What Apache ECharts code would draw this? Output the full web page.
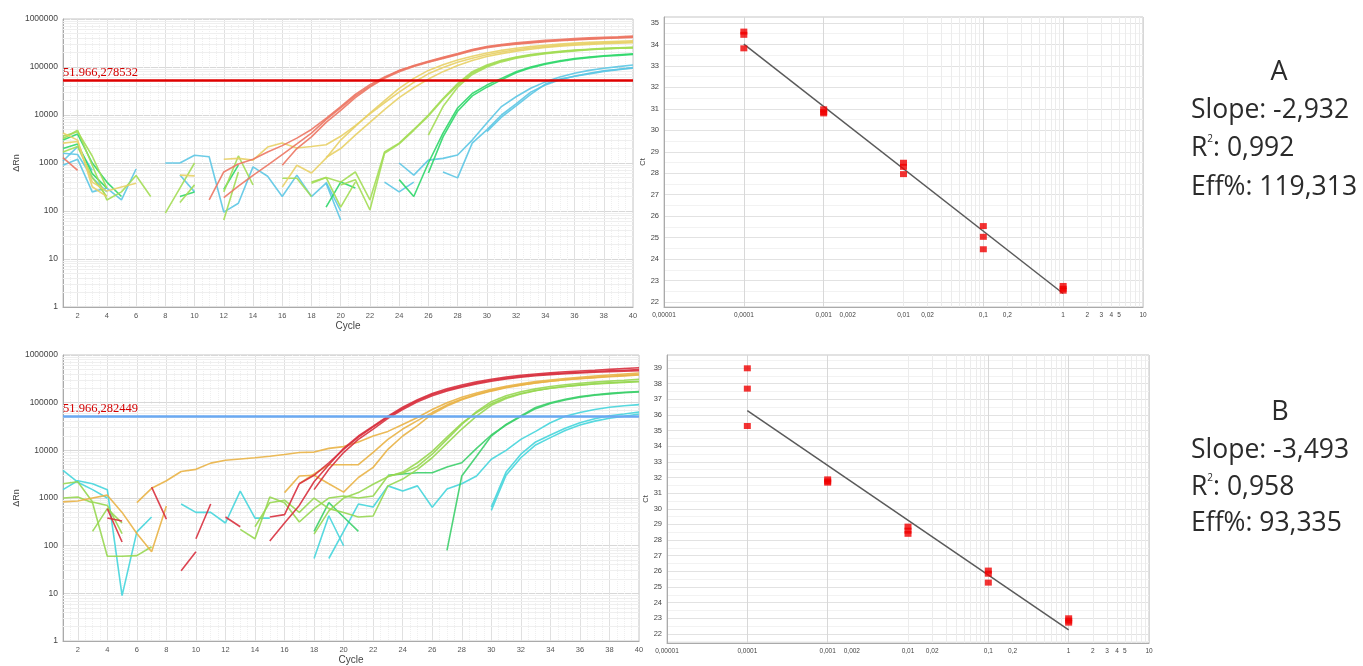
<!DOCTYPE html>
<html>
<head>
<meta charset="utf-8">
<script src="https://cdn.jsdelivr.net/npm/echarts@6/dist/echarts.min.js"></script>
<style>
html, body { margin: 0; padding: 0; background: #fff; }
#chart { width: 1363px; height: 666px; }
</style>
</head>
<body>
<div id="chart"></div>
<script>
'use strict';

/* data */

var _ = null;
var cycles = [];
for (var c = 1; c <= 40; c++) cycles.push(c);

// amplification plot A (dRn per cycle, null = not drawn)
var aR1 = [1300,700,_,_,_,_,_,_,_,_, 170,650,950,1200,1700,2300,3300,5000,8500,15000, 27000,43000,62000,85000,105000,128000,155000,185000,225000,260000, 285000,305000,325000,345000,360000,375000,390000,400000,412000,425000];
var aR2 = [_,_,_,_,_,_,_,_,_,_, _,190,330,550,900,1500,2500,4200,8000,14000, 25000,40000,60000,84000,108000,132000,160000,192000,232000,268000, 295000,318000,338000,358000,375000,390000,405000,415000,425000,440000];
var aR3 = [_,_,_,_,_,_,_,_,_,_, _,_,_,_,_,900,2000,3500,7000,12500, 23000,38000,58000,80000,102000,125000,150000,180000,218000,252000, 278000,298000,318000,336000,352000,366000,380000,392000,402000,412000];
var aY1 = [4200,3000,320,200,_,_,_,_,560,540, _,1200,1250,1150,2150,2600,2050,2200,2400,3600, 6000,10500,18000,30000,48000,72000,98000,125000,152000,180000, 205000,228000,248000,266000,282000,296000,308000,318000,327000,335000];
var aY2 = [2600,2800,400,260,315,380,_,_,_,_, _,_,_,_,_,315,900,620,1260,3000, 5800,11000,20000,36000,58000,85000,112000,140000,168000,196000, 222000,246000,266000,284000,300000,314000,326000,336000,345000,352000];
var aY3 = [_,_,_,_,_,_,_,_,_,_, _,_,_,_,_,_,_,_,1300,2000, 3800,7000,13000,23000,37000,56000,80000,108000,136000,165000, 190000,214000,235000,254000,270000,284000,296000,306000,315000,322000];
var aL1 = [3200,4800,900,170,250,550,200,_,_,_, _,65,650,_,_,_,_,400,500,400, 650,170,1700,2600,5000,10000,22000,45000,80000,110000, 138000,162000,182000,198000,212000,225000,235000,244000,252000,258000];
var aL2 = [3600,4500,1400,300,_,_,_,90,300,1000, _,_,_,_,_,480,480,200,_,350, 450,105,1600,2500,4800,9500,21000,42000,75000,105000, 133000,157000,177000,194000,208000,221000,231000,240000,247000,253000];
var aL3 = [1700,2200,500,200,_,_,_,_,150,350, _,250,1400,350,_,_,_,380,500,120, 400,_,_,_,_,3800,15000,38000,70000,100000, 128000,152000,172000,190000,204000,217000,228000,237000,245000,250000];
var aG1 = [3000,4000,1000,400,200,_,_,_,200,250, _,280,900,_,_,_,_,_,_,_, _,_,_,450,200,1000,4200,14000,28000,42000, 58000,80000,100000,118000,135000,150000,162000,172000,180000,188000];
var aG2 = [2000,2500,600,300,_,_,_,_,_,_, _,_,_,_,_,_,_,_,120,400, 300,_,_,_,_,620,3500,12000,25000,38000, 54000,76000,96000,114000,130000,145000,157000,167000,175000,182000];
var aC1 = [900,1200,250,300,170,750,_,1000,1000,1450, 1350,95,145,830,530,200,560,200,380,65, _,_,_,1000,560,1150,1250,1470,3000,6800, 15000,24000,36000,49000,62000,74000,85000,94000,102000,110000];
var aC2 = [1600,1500,500,250,_,_,_,_,560,250, _,_,_,_,_,_,_,_,400,100, _,_,400,250,400,_,650,490,2600,4900, 10000,17000,30000,42000,54000,64000,74000,83000,90000,97000];
var aC3 = [1100,2200,700,_,_,_,_,_,_,_, _,_,_,_,_,_,_,_,_,_, _,_,_,_,_,_,_,_,_,4500, 9000,15500,27000,44000,56000,64000,72000,81000,88000,95000];

// amplification plot B
var bR1 = [_,_,_,600,120,_,1700,360,_,_, _,400,250,_,125,300,700,2200,5000,11000, 20000,32000,52000,80000,115000,155000,195000,235000,275000,310000, 345000,375000,400000,425000,445000,462000,480000,500000,520000,540000];
var bR2 = [_,_,_,380,330,_,_,_,30,75, _,_,_,_,400,450,2000,3000,5500,10500, 19000,31000,50000,76000,110000,148000,185000,222000,260000,295000, 328000,356000,380000,402000,420000,436000,452000,466000,480000,495000];
var bR3 = [_,_,_,_,_,_,_,_,_,140, 750,_,_,_,_,_,_,1500,4000,9000, 17000,28000,47000,72000,104000,140000,176000,212000,248000,282000, 314000,342000,366000,388000,406000,422000,436000,448000,460000,470000];
var bY1 = [_,_,_,_,_,800,1600,2300,3600,4000, 5400,6200,6600,7000,7500,8200,9000,9200,11000,12000, 15000,20000,25000,35000,49000,72000,100000,130000,160000,190000, 222000,250000,276000,300000,322000,342000,362000,382000,400000,420000];
var bY2 = [830,870,1000,1150,500,180,75,680,_,_, _,_,_,_,_,1300,2900,3000,2000,1330, 2700,4400,10500,20000,33000,58000,85000,115000,145000,175000, 205000,233000,258000,281000,302000,322000,340000,358000,374000,390000];
var bY3 = [_,_,_,_,_,_,_,_,_,_, _,_,_,_,_,_,2000,3200,5000,5000, 5000,9100,17000,28000,42000,62000,90000,120000,150000,180000, 210000,236000,260000,282000,302000,320000,336000,350000,365000,380000];
var bL1 = [1000,1050,800,60,60,62,95,_,_,_, _,_,220,140,1050,800,315,600,1000,1100, 1000,1100,2900,3300,4600,8300,17000,35000,65000,105000, 140000,170000,195000,218000,238000,255000,270000,283000,295000,310000];
var bL2 = [_,_,200,600,300,_,_,_,_,_, _,_,_,_,_,_,_,175,540,1000, 1300,1950,2800,3500,5500,9500,19000,37000,62000,95000, 128000,156000,180000,200000,218000,233000,246000,257000,266000,275000];
var bL3 = [2000,2200,830,700,180,_,_,_,_,_, _,_,_,250,800,900,500,1000,600,500, 400,420,1800,2500,4000,7000,14000,28000,52000,88000, 122000,152000,178000,200000,220000,236000,250000,262000,272000,282000];
var bG1 = [_,_,_,_,_,_,_,_,_,_, _,_,_,_,_,_,_,_,_,_, _,_,_,_,_,_,80,2900,7500,20000, 35000,53000,79000,100000,118000,134000,147000,157000,165000,172000];
var bG2 = [_,_,_,_,_,_,_,_,_,_, _,_,_,_,_,_,_,200,800,400, 200,_,3000,3200,3400,3400,4500,5500,11000,21000, 34000,51000,75000,96000,114000,130000,143000,153000,161000,168000];
var bC1 = [3800,2150,1500,1000,_,_,_,_,750,500, 500,300,1400,380,380,_,_,54,425,100, _,_,_,_,_,_,_,_,_,650, 3500,8300,15000,21000,29000,38000,46000,53000,58000,64000];
var bC2 = [1500,2300,2000,1500,9,195,400,_,_,_, _,_,_,_,_,_,_,_,54,200, 750,650,1800,1400,1800,640,1550,2000,2900,6500, 10000,17000,25000,38000,52000,62000,72000,80000,86000,91000];
var bC3 = [_,_,_,_,_,_,_,_,_,_, _,_,_,_,_,_,_,_,_,_, _,_,_,_,_,_,_,_,_,550, 3000,7000,13000,18500,26000,34000,41000,47000,52000,58000];

var thresholdA = 51966.278532;
var thresholdB = 51966.282449;
var thresholdTextA = '51.966,278532';
var thresholdTextB = '51.966,282449';

// standard curves (quantity, Ct)
var dilutions = [0.0001, 0.001, 0.01, 0.1, 1];
var ctA = [[34.6, 34.45, 33.82], [30.98, 30.85, 30.79], [28.49, 28.3, 27.96], [25.54, 25.04, 24.46], [22.75, 22.62, 22.53]];
var ctB = [[38.98, 37.68, 35.29], [31.88, 31.75, 31.67], [28.86, 28.6, 28.4], [26.05, 25.85, 25.28], [23.0, 22.85, 22.72]];
var fitA = [[0.0001, 34.02], [1, 22.4]];
var fitB = [[0.0001, 36.27], [1, 22.26]];

var stdTickValues = [0.00001, 0.0001, 0.001, 0.002, 0.01, 0.02, 0.1, 0.2, 1, 2, 3, 4, 5, 10];
var stdTickLabels = ['0,00001', '0,0001', '0,001', '0,002', '0,01', '0,02', '0,1', '0,2', '1', '2', '3', '4', '5', '10'];

var statsA = { name: 'A', slope: '-2,932', r2: '0,992', eff: '119,313' };
var statsB = { name: 'B', slope: '-3,493', r2: '0,958', eff: '93,335' };

var colorsA = { red: '#ec7563', yellow: '#e8d066', lgreen: '#a3dd55', green: '#2fd76a', cyan: '#5cc6e4' };
var colorsB = { red: '#d8303e', yellow: '#e9b246', lgreen: '#97d751', green: '#3ccf6a', cyan: '#45d5dc' };

/* helpers */

var minorLog = [];
for (var d = 0; d < 6; d++) for (var k = 2; k <= 9; k++) minorLog.push(k * Math.pow(10, d));
var minorStd = [];
for (var e = -5; e < 1; e++) for (var m = 2; m <= 9; m++) minorStd.push(+(m * Math.pow(10, e)).toPrecision(3));

function curve(arr, color, idx) {
  return {
    type: 'line', xAxisIndex: idx, yAxisIndex: idx,
    data: cycles.map(function (cy, i) { return [cy, arr[i]]; }),
    showSymbol: false, symbol: 'none', silent: true, z: 3,
    lineStyle: { width: 1.6, color: color, opacity: 0.9 }
  };
}

// faint minor grid lines, kept under the curves
function gridLines(idx, axisKey, values, color) {
  return {
    type: 'line', xAxisIndex: idx, yAxisIndex: idx, data: [], silent: true, z: 1,
    markLine: {
      z: 1, symbol: 'none', silent: true, animation: false,
      label: { show: false },
      lineStyle: { color: color, width: 1, type: 'solid' },
      data: values.map(function (v) { var o = {}; o[axisKey] = v; return o; })
    }
  };
}

function threshold(idx, value, text, color) {
  return {
    type: 'line', xAxisIndex: idx, yAxisIndex: idx, data: [], silent: true, z: 5,
    markLine: {
      z: 5, symbol: 'none', silent: true, animation: false,
      lineStyle: { color: color, width: 2.5, type: 'solid' },
      label: {
        show: true, position: 'insideStartTop', formatter: text, distance: [0, 1],
        color: '#d40000', fontFamily: 'Liberation Serif', fontSize: 12.5
      },
      data: [{ yAxis: value }]
    }
  };
}

function ampX(idx) {
  return {
    gridIndex: idx, type: 'value', min: 1, max: 40, splitNumber: 20,
    name: 'Cycle', nameLocation: 'middle', nameGap: 13,
    nameTextStyle: { fontSize: 10, color: '#444' },
    axisLine: { lineStyle: { color: '#aaa' } },
    axisTick: { show: false },
    axisLabel: { fontSize: 7.5, color: '#555', margin: 5,
      formatter: function (v) { return v % 2 === 0 ? String(v) : ''; } },
    splitLine: { lineStyle: { color: '#e0e0e0' } },
    minorSplitLine: { show: true, lineStyle: { color: '#efefef', type: 'dotted' } },
    minorTick: { splitNumber: 4 }
  };
}

function ampY(idx) {
  return {
    gridIndex: idx, type: 'log', logBase: 10, min: 1, max: 1000000,
    name: 'ΔRn', nameLocation: 'middle', nameGap: 40, nameRotate: 90,
    nameTextStyle: { fontSize: 9, color: '#444' },
    axisLine: { show: true, lineStyle: { color: '#aaa' } },
    axisTick: { show: false },
    axisLabel: { fontSize: 8.5, color: '#444', margin: 5,
      formatter: function (v) { return String(Math.round(v)); } },
    splitLine: { lineStyle: { color: '#d8d8d8' } }
  };
}

function stdX(idx) {
  return {
    gridIndex: idx, type: 'log', logBase: 10, min: 0.00001, max: 10,
    axisLine: { lineStyle: { color: '#aaa' } },
    axisTick: { show: false },
    axisLabel: {
      customValues: stdTickValues, fontSize: 6.5, color: '#444', margin: 5,
      formatter: function (v) {
        for (var i = 0; i < stdTickValues.length; i++) {
          if (Math.abs(v - stdTickValues[i]) / stdTickValues[i] < 1e-6) return stdTickLabels[i];
        }
        return '';
      }
    },
    splitLine: { lineStyle: { color: '#d8d8d8' } }
  };
}

function stdY(idx, min, max, n, gap) {
  return {
    gridIndex: idx, type: 'value', min: min, max: max, splitNumber: n,
    name: 'Ct', nameLocation: 'middle', nameGap: gap, nameRotate: 90,
    nameTextStyle: { fontSize: 7.5, color: '#444' },
    axisLine: { show: true, lineStyle: { color: '#aaa' } },
    axisTick: { show: false },
    axisLabel: { fontSize: 7.5, color: '#444', margin: 5,
      formatter: function (v) { return Math.abs(v - Math.round(v)) < 1e-6 ? String(Math.round(v)) : ''; } },
    splitLine: { lineStyle: { color: '#e2e2e2' } },
    minorSplitLine: { show: true, lineStyle: { color: '#f2f2f2' } },
    minorTick: { splitNumber: 2 }
  };
}

function points(ct) {
  var out = [];
  dilutions.forEach(function (q, i) { ct[i].forEach(function (v) { out.push([q, v]); }); });
  return out;
}

function stdSeries(idx, ct, fit) {
  return [
    gridLines(idx, 'xAxis', minorStd, '#ececec'),
    { type: 'line', xAxisIndex: idx, yAxisIndex: idx, data: fit, showSymbol: false, symbol: 'none',
      silent: true, z: 3, lineStyle: { color: '#5a5a5a', width: 1.5 } },
    { type: 'scatter', xAxisIndex: idx, yAxisIndex: idx, data: points(ct), symbol: 'rect',
      symbolSize: [7, 6], silent: true, z: 4, itemStyle: { color: '#f00000' } }
  ];
}

function statsText(s, cx, lx, y0, gaps) {
  var font = '"Open Sans"';
  var col = '#2b2b2b';
  return [
    { type: 'text', x: cx, y: y0, style: { text: s.name, fontFamily: font, fontSize: 27, fill: col, align: 'center', verticalAlign: 'middle' } },
    { type: 'text', x: lx, y: y0 + gaps[0], style: { text: 'Slope: ' + s.slope, fontFamily: font, fontSize: 26.5, fill: col, align: 'left', verticalAlign: 'middle' } },
    { type: 'text', x: lx, y: y0 + gaps[1], style: { text: 'R{s|2}: ' + s.r2, fontFamily: font, fontSize: 26.5, fill: col, align: 'left', verticalAlign: 'middle',
      rich: { s: { fontFamily: font, fontSize: 10, fill: col, verticalAlign: 'top', padding: [0, 0, 10, 0] } } } },
    { type: 'text', x: lx, y: y0 + gaps[2], style: { text: 'Eff%: ' + s.eff, fontFamily: font, fontSize: 26.5, fill: col, align: 'left', verticalAlign: 'middle' } }
  ];
}

var series = [
  gridLines(0, 'yAxis', minorLog, '#efefef'),
  curve(aC1, colorsA.cyan, 0), curve(aC2, colorsA.cyan, 0), curve(aC3, colorsA.cyan, 0),
  curve(aG1, colorsA.green, 0), curve(aG2, colorsA.green, 0),
  curve(aL1, colorsA.lgreen, 0), curve(aL2, colorsA.lgreen, 0), curve(aL3, colorsA.lgreen, 0),
  curve(aY1, colorsA.yellow, 0), curve(aY2, colorsA.yellow, 0), curve(aY3, colorsA.yellow, 0),
  curve(aR1, colorsA.red, 0), curve(aR2, colorsA.red, 0), curve(aR3, colorsA.red, 0),
  threshold(0, thresholdA, thresholdTextA, '#e00000'),

  gridLines(2, 'yAxis', minorLog, '#efefef'),
  curve(bC1, colorsB.cyan, 2), curve(bC2, colorsB.cyan, 2), curve(bC3, colorsB.cyan, 2),
  curve(bG1, colorsB.green, 2), curve(bG2, colorsB.green, 2),
  curve(bL1, colorsB.lgreen, 2), curve(bL2, colorsB.lgreen, 2), curve(bL3, colorsB.lgreen, 2),
  curve(bY1, colorsB.yellow, 2), curve(bY2, colorsB.yellow, 2), curve(bY3, colorsB.yellow, 2),
  curve(bR1, colorsB.red, 2), curve(bR2, colorsB.red, 2), curve(bR3, colorsB.red, 2),
  threshold(2, thresholdB, thresholdTextB, '#6aa9f2')
].concat(stdSeries(1, ctA, fitA), stdSeries(3, ctB, fitB));

var myChart = echarts.init(document.getElementById('chart'));
var option = {
  animation: false,
  backgroundColor: '#ffffff',
  textStyle: { fontFamily: 'Liberation Sans' },
  grid: [
    { left: 63, top: 19, width: 570, height: 288, show: true, borderColor: '#c4c4c4' },
    { left: 664, top: 17, width: 479, height: 290, show: true, borderColor: '#c4c4c4' },
    { left: 63, top: 355, width: 576, height: 288, show: true, borderColor: '#c4c4c4' },
    { left: 667, top: 355, width: 482, height: 288, show: true, borderColor: '#c4c4c4' }
  ],
  xAxis: [ampX(0), stdX(1), ampX(2), stdX(3)],
  yAxis: [ampY(0), stdY(1, 21.77, 35.28, 13, 17), ampY(2), stdY(3, 21.42, 39.83, 18, 16)],
  series: series,
  graphic: statsText(statsA, 1279, 1191, 72, [38, 76, 115]).concat(statsText(statsB, 1280, 1191, 412, [38, 75, 111]))
};
myChart.setOption(option);
</script>
</body>
</html>
